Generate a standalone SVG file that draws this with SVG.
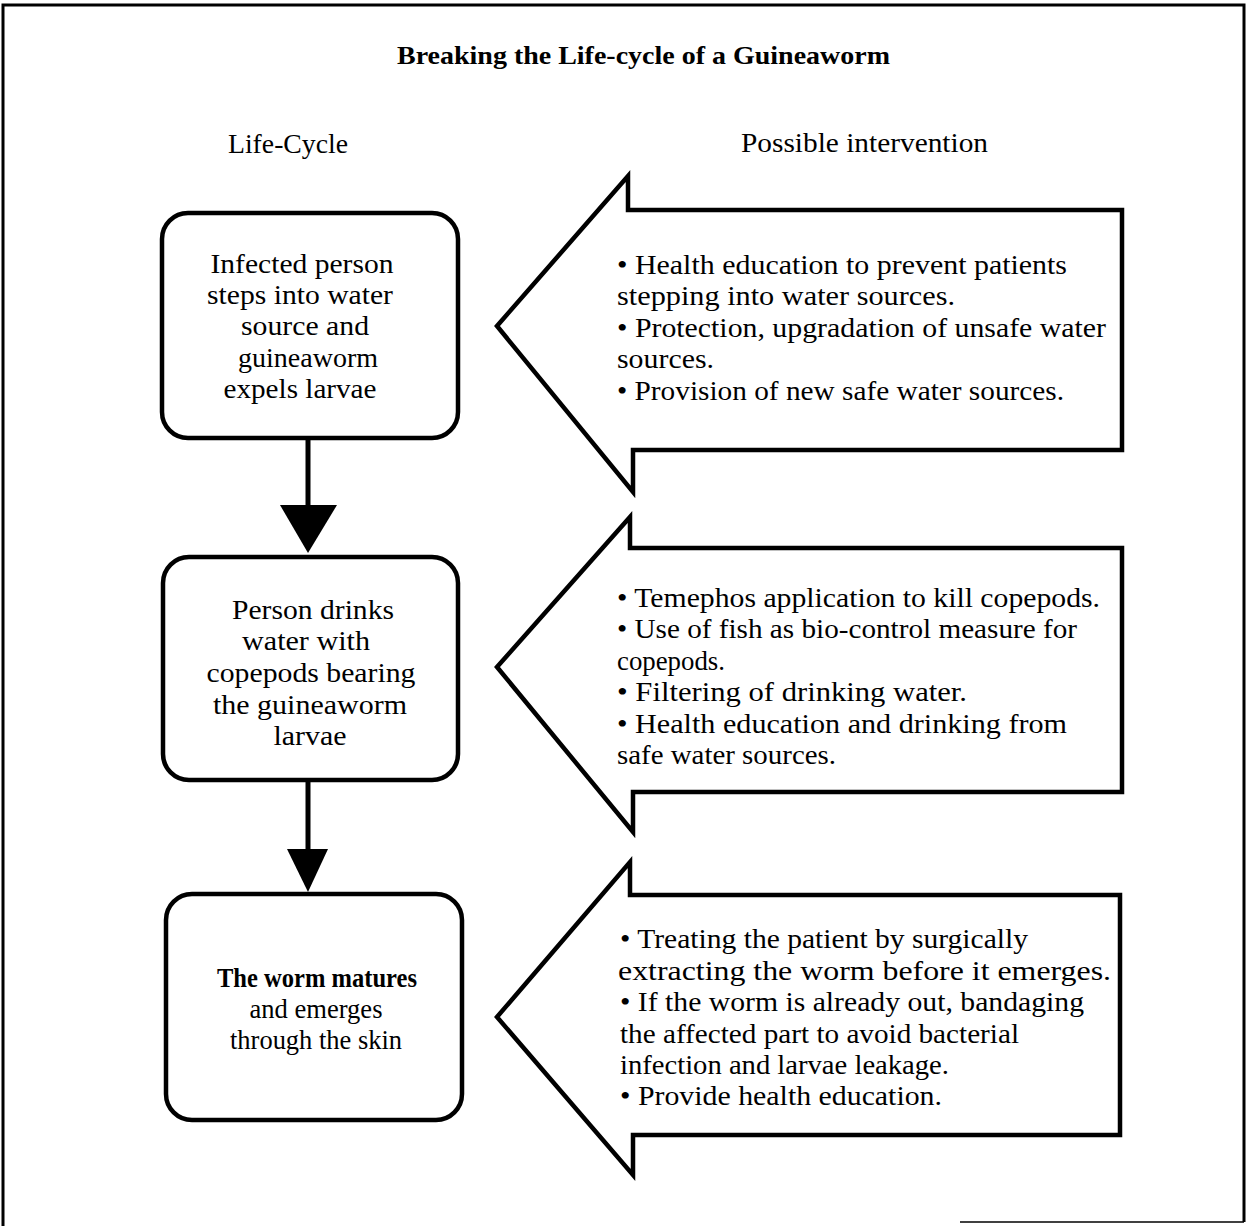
<svg xmlns="http://www.w3.org/2000/svg" width="1247" height="1226" viewBox="0 0 1247 1226">
<style>
  text { font-family: "Liberation Serif", "Times New Roman", serif; fill: #000; }
  .title { font-size: 26px; font-weight: bold; }
  .head { font-size: 27px; }
  .box-t { font-size: 27px; text-anchor: middle; }
  .arr-t { font-size: 27px; }
  .box { fill: #fff; stroke: #000; stroke-width: 4.5; }
  .bigarrow { fill: #fff; stroke: #000; stroke-width: 4.5; stroke-linejoin: miter; }
  .conn { stroke: #000; stroke-width: 5; fill: none; }
  .frame { stroke: #000; fill: none; }
</style>
<rect x="0" y="0" width="1247" height="1226" fill="#fff"/>
<g id="frame">
  <path class="frame" stroke-width="3" d="M3,1226 V5 H1244 V1222"/>
  <line class="frame" stroke-width="1.5" x1="960" y1="1222" x2="1244" y2="1222"/>
</g>
<g id="headings">
  <text class="title" x="397" y="64" textLength="493" lengthAdjust="spacingAndGlyphs">Breaking the Life-cycle of a Guineaworm</text>
  <text class="head" x="228" y="153" textLength="120" lengthAdjust="spacingAndGlyphs">Life-Cycle</text>
  <text class="head" x="741" y="152" textLength="247" lengthAdjust="spacingAndGlyphs">Possible intervention</text>
</g>
<g id="connectors">
  <line class="conn" x1="308" y1="438" x2="308" y2="508"/>
  <polygon points="280,505 337,505 308,553" fill="#000"/>
  <line class="conn" x1="308" y1="780" x2="308" y2="852"/>
  <polygon points="287,849 328,849 308,892" fill="#000"/>
</g>
<g id="node-1">
  <rect class="box" x="162" y="213" width="296" height="225" rx="26" ry="26"/>
  <text class="box-t" x="302" y="273" textLength="183" lengthAdjust="spacingAndGlyphs">Infected person</text>
  <text class="box-t" x="300" y="304" textLength="186" lengthAdjust="spacingAndGlyphs">steps into water</text>
  <text class="box-t" x="305" y="335" textLength="128" lengthAdjust="spacingAndGlyphs">source and</text>
  <text class="box-t" x="308" y="367" textLength="140" lengthAdjust="spacingAndGlyphs">guineaworm</text>
  <text class="box-t" x="300" y="398" textLength="153" lengthAdjust="spacingAndGlyphs">expels larvae</text>
</g>
<g id="node-2">
  <rect class="box" x="163" y="557" width="295" height="223" rx="26" ry="26"/>
  <text class="box-t" x="313" y="619" textLength="162" lengthAdjust="spacingAndGlyphs">Person drinks</text>
  <text class="box-t" x="306" y="650" textLength="128" lengthAdjust="spacingAndGlyphs">water with</text>
  <text class="box-t" x="311" y="682" textLength="209" lengthAdjust="spacingAndGlyphs">copepods bearing</text>
  <text class="box-t" x="310" y="714" textLength="194" lengthAdjust="spacingAndGlyphs">the guineaworm</text>
  <text class="box-t" x="310" y="745" textLength="73" lengthAdjust="spacingAndGlyphs">larvae</text>
</g>
<g id="node-3">
  <rect class="box" x="166" y="894" width="296" height="226" rx="26" ry="26"/>
  <text class="box-t" x="317" y="987" font-size="25" font-weight="bold" textLength="200" lengthAdjust="spacingAndGlyphs">The worm matures</text>
  <text class="box-t" x="316" y="1018" font-size="25" textLength="133" lengthAdjust="spacingAndGlyphs">and emerges</text>
  <text class="box-t" x="316" y="1049" font-size="25" textLength="172" lengthAdjust="spacingAndGlyphs">through the skin</text>
</g>
<g id="intervention-1">
  <polygon class="bigarrow" points="497,326 628,176 628,210 1122,210 1122,450 633,450 633,492"/>
  <text class="arr-t" x="617" y="274" textLength="450" lengthAdjust="spacingAndGlyphs">• Health education to prevent patients</text>
  <text class="arr-t" x="617" y="305" textLength="338" lengthAdjust="spacingAndGlyphs">stepping into water sources.</text>
  <text class="arr-t" x="617" y="337" textLength="489" lengthAdjust="spacingAndGlyphs">• Protection, upgradation of unsafe water</text>
  <text class="arr-t" x="617" y="368" textLength="97" lengthAdjust="spacingAndGlyphs">sources.</text>
  <text class="arr-t" x="617" y="400" textLength="447" lengthAdjust="spacingAndGlyphs">• Provision of new safe water sources.</text>
</g>
<g id="intervention-2">
  <polygon class="bigarrow" points="497,667 630,517 630,548 1122,548 1122,792 633,792 633,832"/>
  <text class="arr-t" x="617" y="607" textLength="483" lengthAdjust="spacingAndGlyphs">• Temephos application to kill copepods.</text>
  <text class="arr-t" x="617" y="638" textLength="460" lengthAdjust="spacingAndGlyphs">• Use of fish as bio-control measure for</text>
  <text class="arr-t" x="617" y="670" textLength="108" lengthAdjust="spacingAndGlyphs">copepods.</text>
  <text class="arr-t" x="617" y="701" textLength="350" lengthAdjust="spacingAndGlyphs">• Filtering of drinking water.</text>
  <text class="arr-t" x="617" y="733" textLength="450" lengthAdjust="spacingAndGlyphs">• Health education and drinking from</text>
  <text class="arr-t" x="617" y="764" textLength="219" lengthAdjust="spacingAndGlyphs">safe water sources.</text>
</g>
<g id="intervention-3">
  <polygon class="bigarrow" points="497,1017 630,862 630,895 1120,895 1120,1135 633,1135 633,1175"/>
  <text class="arr-t" x="620" y="948" textLength="408" lengthAdjust="spacingAndGlyphs">• Treating the patient by surgically</text>
  <text class="arr-t" x="618" y="980" textLength="493" lengthAdjust="spacingAndGlyphs">extracting the worm before it emerges.</text>
  <text class="arr-t" x="620" y="1011" textLength="464" lengthAdjust="spacingAndGlyphs">• If the worm is already out, bandaging</text>
  <text class="arr-t" x="620" y="1043" textLength="399" lengthAdjust="spacingAndGlyphs">the affected part to avoid bacterial</text>
  <text class="arr-t" x="620" y="1074" textLength="329" lengthAdjust="spacingAndGlyphs">infection and larvae leakage.</text>
  <text class="arr-t" x="620" y="1105" textLength="322" lengthAdjust="spacingAndGlyphs">• Provide health education.</text>
</g>
</svg>
